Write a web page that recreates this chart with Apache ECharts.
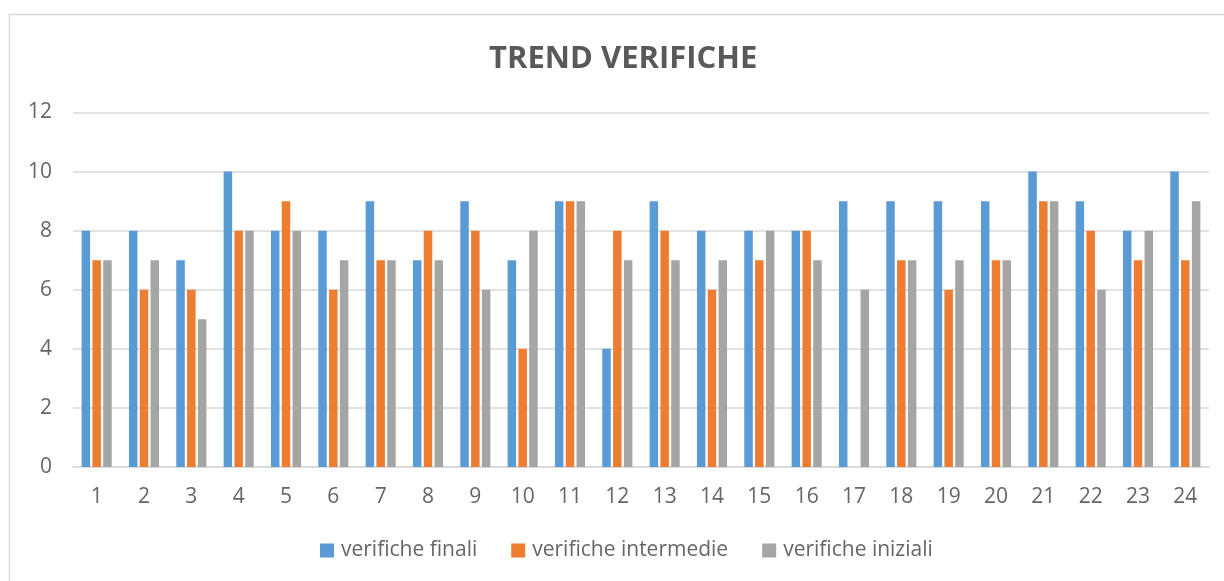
<!DOCTYPE html>
<html>
<head>
<meta charset="utf-8">
<style>
  html, body { margin: 0; padding: 0; background: #fff; }
  #chart { width: 1224px; height: 581px; }
</style>
<script src="https://cdn.jsdelivr.net/npm/echarts@6/dist/echarts.min.js"></script>
</head>
<body>
<div id="chart"></div>
<script>
// Categories along the x axis
const categories = ['1','2','3','4','5','6','7','8','9','10','11','12',
                    '13','14','15','16','17','18','19','20','21','22','23','24'];

// Series values
const verificheFinali      = [8, 8, 7, 10, 8, 8, 9, 7, 9, 7, 9, 4, 9, 8, 8, 8, 9, 9, 9, 9, 10, 9, 8, 10];
const verificheIntermedie  = [7, 6, 6, 8, 9, 6, 7, 8, 8, 4, 9, 8, 8, 6, 7, 8, null, 7, 6, 7, 9, 8, 7, 7];
const verificheIniziali    = [7, 7, 5, 8, 8, 7, 7, 7, 6, 8, 9, 7, 7, 7, 8, 7, 6, 7, 7, 7, 9, 6, 8, 9];

const seriesNames = ['verifiche finali', 'verifiche intermedie', 'verifiche iniziali'];
const seriesColors = ['#5b9bd5', '#ed7d31', '#a5a5a5'];

const FONT = "'Open Sans', 'Liberation Sans', sans-serif";
const TITLE_COLOR = '#595959';
const LABEL_COLOR = '#666666';

const chart = echarts.init(document.getElementById('chart'), null, { renderer: 'canvas' });

const makeBar = (name, data, color) => ({
  name,
  type: 'bar',
  data,
  barWidth: 8.5,
  barGap: '27%',
  itemStyle: { color },
  emphasis: { disabled: true }
});

chart.setOption({
  animation: false,
  color: seriesColors,
  graphic: [{
    type: 'rect',
    shape: { x: 9.5, y: 14.5, width: 1230, height: 600 },
    style: { fill: 'none', stroke: '#d9d9d9', lineWidth: 1.5 },
    silent: true,
    z: -1
  }],
  title: {
    text: 'TREND VERIFICHE',
    left: 484,
    top: 39,
    textStyle: { fontFamily: FONT, fontSize: 31, fontWeight: 'bold', color: TITLE_COLOR }
  },
  grid: { left: 73, right: 15, top: 112.5, bottom: 114, containLabel: false },
  legend: {
    data: seriesNames,
    top: 540,
    left: 320,
    padding: 0,
    itemWidth: 14,
    itemHeight: 14,
    itemGap: 34,
    icon: 'rect',
    textStyle: { fontFamily: FONT, fontSize: 21, color: LABEL_COLOR, padding: [0, 0, 0, 2] }
  },
  xAxis: {
    type: 'category',
    data: categories,
    axisTick: { show: false },
    axisLine: { lineStyle: { color: '#d9d9d9', width: 1.5 } },
    axisLabel: { margin: 20, fontFamily: FONT, fontSize: 21, color: LABEL_COLOR }
  },
  yAxis: {
    type: 'value',
    min: 0,
    max: 12,
    interval: 2,
    axisLine: { show: false },
    axisTick: { show: false },
    splitLine: { lineStyle: { color: '#d9d9d9', width: 1.5 } },
    axisLabel: { margin: 21, fontFamily: FONT, fontSize: 21, color: LABEL_COLOR }
  },
  series: [
    makeBar(seriesNames[0], verificheFinali, seriesColors[0]),
    makeBar(seriesNames[1], verificheIntermedie, seriesColors[1]),
    makeBar(seriesNames[2], verificheIniziali, seriesColors[2])
  ]
});
</script>
</body>
</html>
